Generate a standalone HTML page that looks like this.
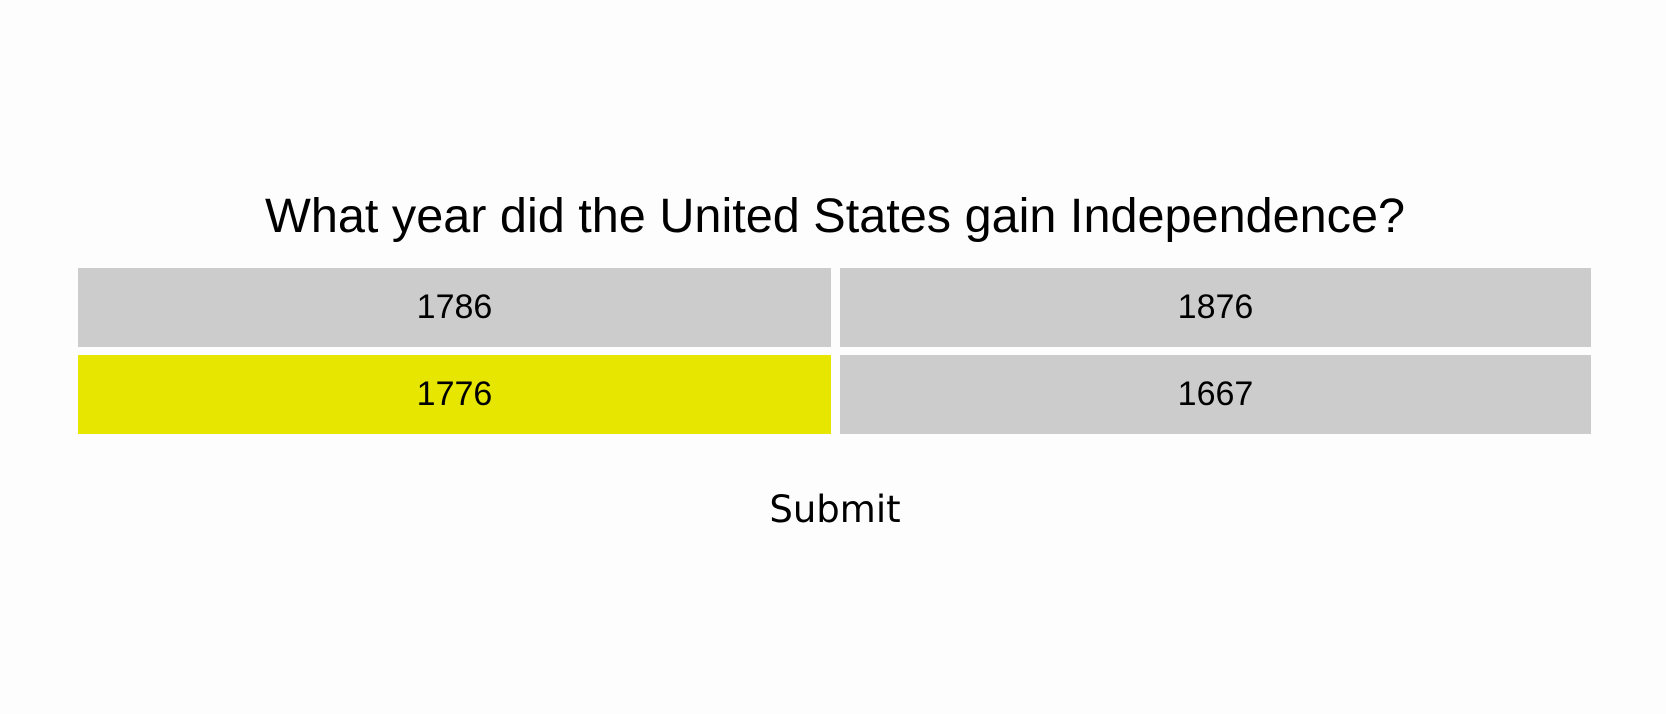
<!DOCTYPE html>
<html><head><meta charset="utf-8"><style>
html,body{margin:0;padding:0;background:#fdfdfd;width:1666px;height:714px;overflow:hidden;font-family:"Liberation Sans",Arial,sans-serif;color:#000}
.q{position:absolute;left:0;width:1670px;top:188px;text-align:center;font-size:48.6px;line-height:56px}
.opt{position:absolute;height:79px;background:#cccccc;display:flex;align-items:center;justify-content:center;font-size:34px}
.sel{background:#e6e600}
.submit{position:absolute;left:735px;width:200px;top:487px;text-align:center;font-family:"DejaVu Sans",sans-serif;font-size:37px;line-height:46px}
</style></head><body>
<div class="q">What year did the United States gain Independence?</div>
<div class="opt" style="left:78px;top:268px;width:753px">1786</div>
<div class="opt" style="left:840px;top:268px;width:751px">1876</div>
<div class="opt sel" style="left:78px;top:355px;width:753px">1776</div>
<div class="opt" style="left:840px;top:355px;width:751px">1667</div>
<div class="submit">Submit</div>
</body></html>
